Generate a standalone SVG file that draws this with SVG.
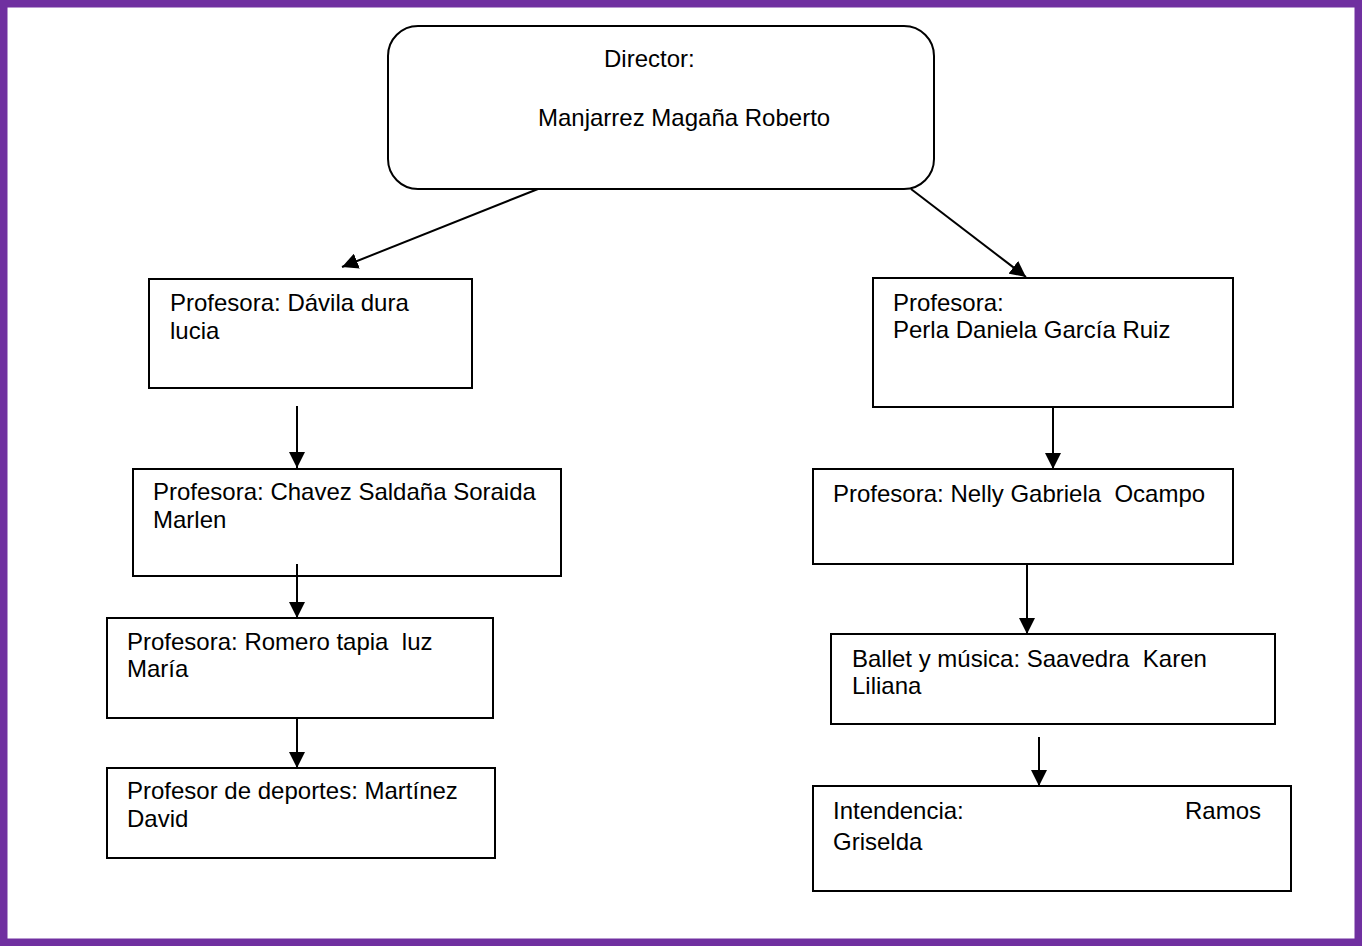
<svg xmlns="http://www.w3.org/2000/svg" width="1362" height="946" viewBox="0 0 1362 946">
<style>
  .box{fill:#fff;stroke:#000;stroke-width:2}
  .t{font-family:"Liberation Sans",Arial,sans-serif;font-size:24px;fill:#000;white-space:pre}
  .c{stroke:#000;stroke-width:2;fill:none}
</style>
<defs>
  <marker id="ah" markerUnits="userSpaceOnUse" markerWidth="16" markerHeight="16" refX="16" refY="8" orient="auto" viewBox="0 0 16 16">
    <path d="M0,0 L16,8 L0,16 z" fill="#000"/>
  </marker>
</defs>
<rect x="0" y="0" width="1362" height="946" fill="#fff"/>
<rect x="3.75" y="3.75" width="1354.5" height="938.5" fill="none" stroke="#7030A0" stroke-width="7.5"/>

<g id="director">
  <rect class="box" x="388" y="26" width="546" height="163" rx="30" ry="30"/>
  <text class="t" x="604" y="67">Director:</text>
  <text class="t" x="538" y="126">Manjarrez Magaña Roberto</text>
</g>

<g id="davila">
  <rect class="box" x="149" y="279" width="323" height="109"/>
  <text class="t" x="170" y="311">Profesora: Dávila dura</text>
  <text class="t" x="170" y="339">lucia</text>
</g>

<g id="chavez">
  <rect class="box" x="133" y="469" width="428" height="107"/>
  <text class="t" x="153" y="500">Profesora: Chavez Saldaña Soraida</text>
  <text class="t" x="153" y="528">Marlen</text>
</g>

<g id="romero">
  <rect class="box" x="107" y="618" width="386" height="100"/>
  <text class="t" x="127" y="650" xml:space="preserve">Profesora: Romero tapia  luz</text>
  <text class="t" x="127" y="677">María</text>
</g>

<g id="martinez">
  <rect class="box" x="107" y="768" width="388" height="90"/>
  <text class="t" x="127" y="799">Profesor de deportes: Martínez</text>
  <text class="t" x="127" y="827">David</text>
</g>

<g id="perla">
  <rect class="box" x="873" y="278" width="360" height="129"/>
  <text class="t" x="893" y="311">Profesora:</text>
  <text class="t" x="893" y="338">Perla Daniela García Ruiz</text>
</g>

<g id="nelly">
  <rect class="box" x="813" y="469" width="420" height="95"/>
  <text class="t" x="833" y="502" xml:space="preserve">Profesora: Nelly Gabriela  Ocampo</text>
</g>

<g id="saavedra">
  <rect class="box" x="831" y="634" width="444" height="90"/>
  <text class="t" x="852" y="667" xml:space="preserve">Ballet y música: Saavedra  Karen</text>
  <text class="t" x="852" y="694">Liliana</text>
</g>

<g id="ramos">
  <rect class="box" x="813" y="786" width="478" height="105"/>
  <text class="t" x="833" y="819">Intendencia:</text>
  <text class="t" x="1185" y="819">Ramos</text>
  <text class="t" x="833" y="850">Griselda</text>
</g>

<g id="connectors">
  <line class="c" x1="538" y1="189" x2="342" y2="267" marker-end="url(#ah)"/>
  <line class="c" x1="911" y1="189" x2="1026" y2="277" marker-end="url(#ah)"/>
  <line class="c" x1="297" y1="406" x2="297" y2="468" marker-end="url(#ah)"/>
  <line class="c" x1="297" y1="564" x2="297" y2="618" marker-end="url(#ah)"/>
  <line class="c" x1="297" y1="718" x2="297" y2="768" marker-end="url(#ah)"/>
  <line class="c" x1="1053" y1="407" x2="1053" y2="469" marker-end="url(#ah)"/>
  <line class="c" x1="1027" y1="564" x2="1027" y2="634" marker-end="url(#ah)"/>
  <line class="c" x1="1039" y1="737" x2="1039" y2="786" marker-end="url(#ah)"/>
</g>
</svg>
